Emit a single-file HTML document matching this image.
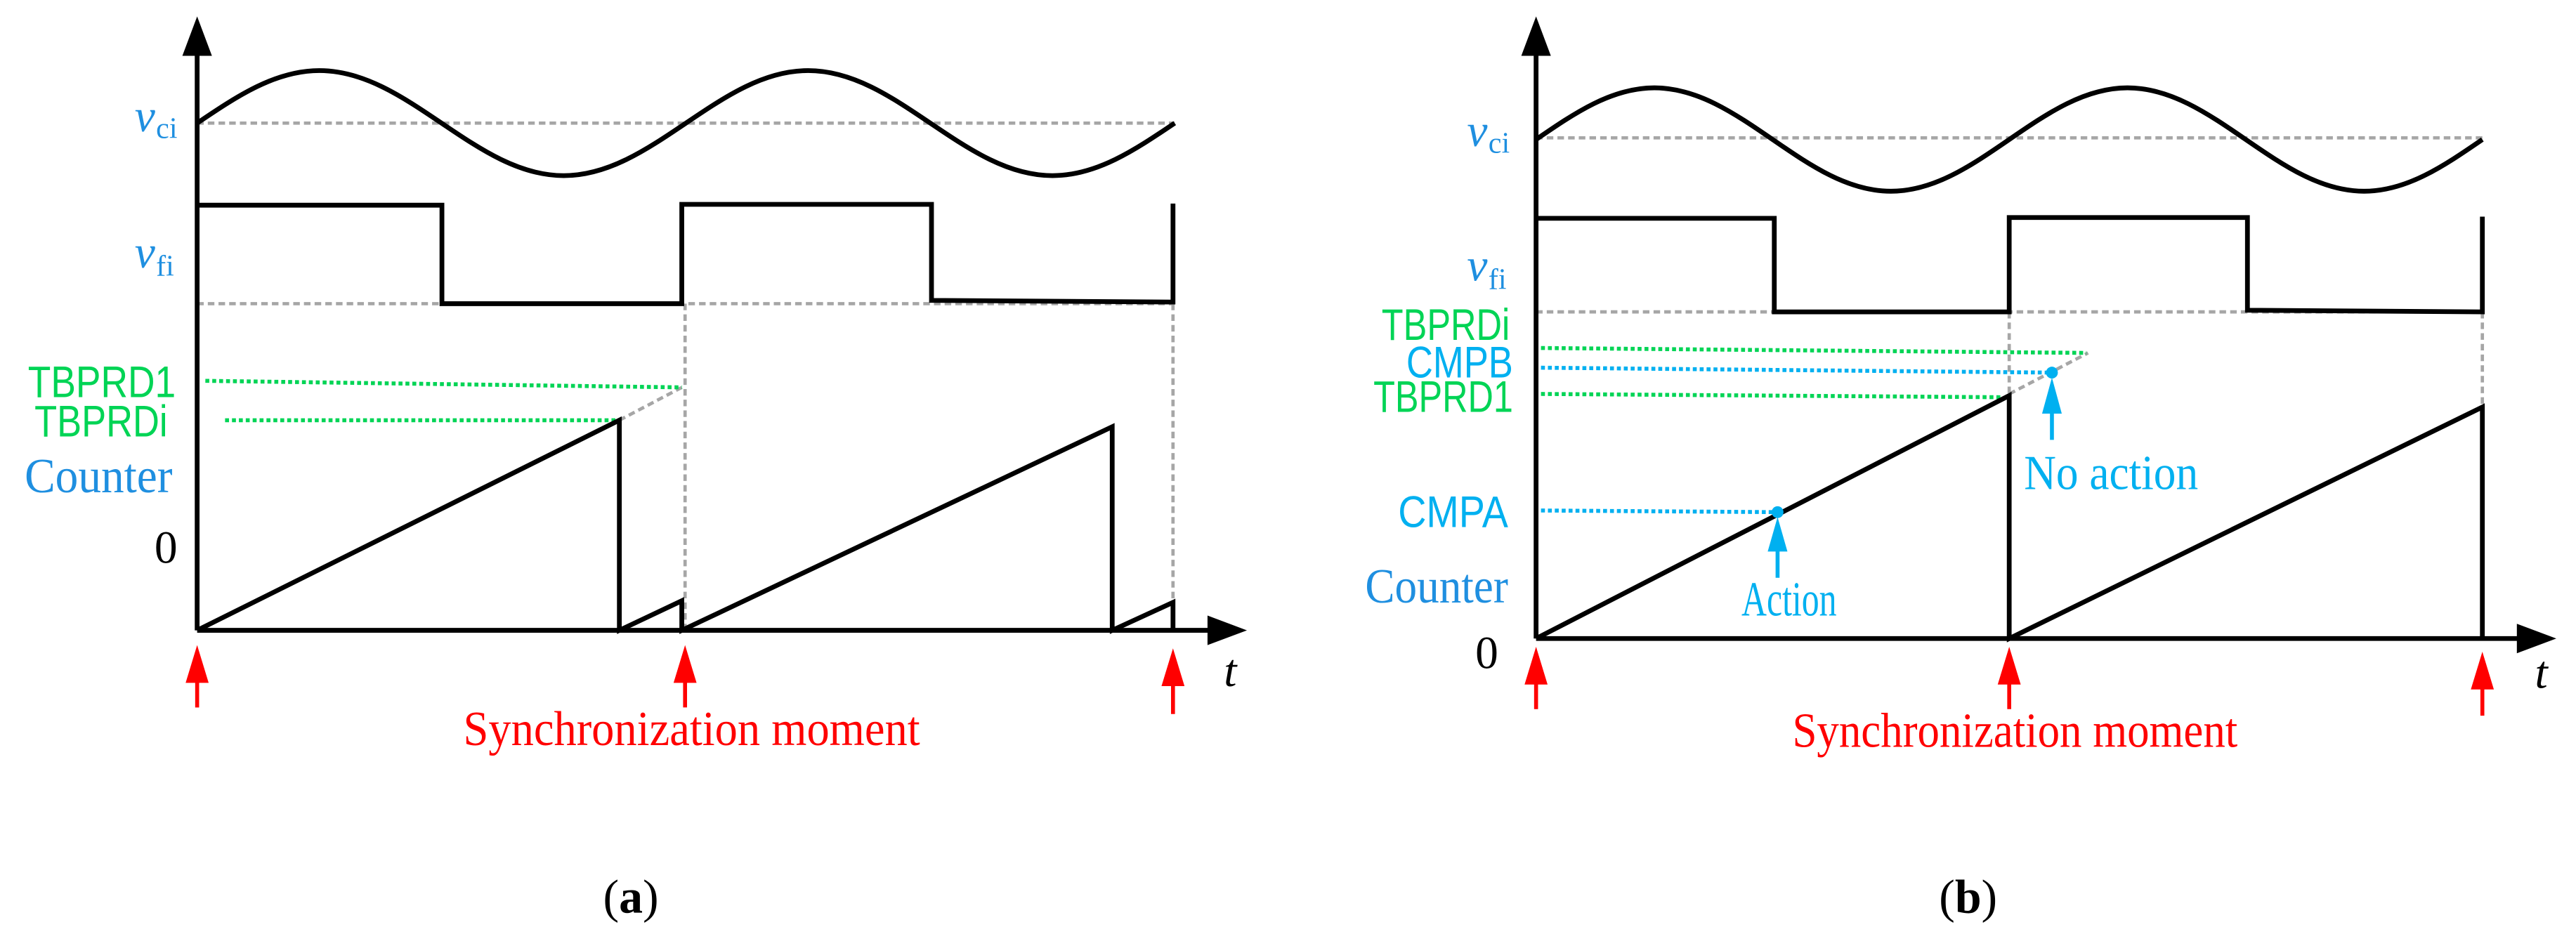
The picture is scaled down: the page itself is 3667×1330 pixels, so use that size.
<!DOCTYPE html>
<html><head><meta charset="utf-8"><style>
html,body{margin:0;padding:0;background:#fff;}
svg{display:block;}
.k{stroke:#000;stroke-width:2.9;fill:none;stroke-linejoin:miter;}
.g{stroke:#a6a6a6;stroke-width:2;fill:none;stroke-dasharray:4 2.5;}
.gr{stroke:#00d455;stroke-width:2.4;fill:none;stroke-dasharray:2.4 1.8;}
.bl{stroke:#00b0f0;stroke-width:2.4;fill:none;stroke-dasharray:2.4 1.8;}
.sans{font-family:"Liberation Sans",sans-serif;}
.serif{font-family:"Liberation Serif",serif;}
</style></head><body>
<svg width="3667" height="1330" viewBox="0 0 1568 569" preserveAspectRatio="none" xmlns="http://www.w3.org/2000/svg">
<!-- ========== Panel (a) ========== -->
<line class="g" x1="120" y1="75" x2="715" y2="75"/>
<line class="g" x1="120" y1="185" x2="714" y2="185"/>
<line class="g" x1="417" y1="185" x2="417" y2="384"/>
<line class="g" x1="714" y1="185" x2="714" y2="384"/>
<line class="g" x1="377" y1="256" x2="415" y2="236"/>
<line class="gr" x1="125" y1="232" x2="415" y2="236"/>
<line class="gr" x1="137" y1="256" x2="377" y2="256"/>
<path class="k" d="M120 75 C144.24 58.62 167.46 43 194.38 43 S244.52 58.62 268.76 75 S316.22 107 343.14 107 S393.28 91.38 417.52 75 S464.98 43 491.9 43 S542.04 58.62 566.28 75 S613.74 107 640.66 107 S690.8 91.38 715.04 75"/>
<path class="k" d="M120 125 L269 125 L269 185 L415 185 L415 124.5 L567 124.5 L567 183 L714 184 L714 124"/>
<path class="k" d="M120 384 L377 256 L377 384 L415 366 L415 384 L677 260 L677 384 L714 367 L714 384"/>
<line class="k" x1="120" y1="384" x2="120" y2="30"/>
<polygon points="120,10 111,34 129,34" fill="#000"/>
<line class="k" x1="120" y1="384" x2="740" y2="384"/>
<polygon points="759,384 735,375 735,393" fill="#000"/>
<g fill="#ff0000" stroke="#ff0000">
<polygon points="120,393 113,416 127,416" stroke="none"/><line x1="120" y1="414" x2="120" y2="431" stroke-width="2.4"/>
<polygon points="417,393 410,416 424,416" stroke="none"/><line x1="417" y1="414" x2="417" y2="431" stroke-width="2.4"/>
<polygon points="714,395 707,418 721,418" stroke="none"/><line x1="714" y1="416" x2="714" y2="435" stroke-width="2.4"/>
</g>
<text class="serif" x="82" y="80" font-size="28" fill="#1f8fe0" font-style="italic">v</text><text class="serif" x="95" y="84" font-size="18" fill="#1f8fe0">ci</text>
<text class="serif" x="82" y="163" font-size="28" fill="#1f8fe0" font-style="italic">v</text><text class="serif" x="95" y="168" font-size="18" fill="#1f8fe0">fi</text>
<text class="sans" x="17" y="242" font-size="27" fill="#00d455" textLength="90" lengthAdjust="spacingAndGlyphs">TBPRD1</text>
<text class="sans" x="21" y="266" font-size="27" fill="#00d455" textLength="81" lengthAdjust="spacingAndGlyphs">TBPRDi</text>
<text class="serif" x="15" y="300" font-size="30" fill="#1f8fe0" textLength="90" lengthAdjust="spacingAndGlyphs">Counter</text>
<text class="serif" x="94" y="343" font-size="28" fill="#000">0</text>
<text class="serif" x="745" y="418" font-size="28" fill="#000" font-style="italic">t</text>
<text class="serif" x="282" y="454" font-size="30" fill="#ff0000" textLength="278" lengthAdjust="spacingAndGlyphs">Synchronization moment</text>
<text class="serif" x="384" y="556" font-size="29" fill="#000" text-anchor="middle">(<tspan font-weight="bold">a</tspan>)</text>

<!-- ========== Panel (b) ========== -->
<line class="g" x1="935" y1="84" x2="1511" y2="84"/>
<line class="g" x1="935" y1="190" x2="1511" y2="190"/>
<line class="g" x1="1223" y1="190" x2="1223" y2="241"/>
<line class="g" x1="1511" y1="190" x2="1511" y2="248"/>
<line class="g" x1="1223" y1="240" x2="1271" y2="215"/>
<line class="gr" x1="938" y1="212" x2="1270" y2="215"/>
<line class="bl" x1="938" y1="224" x2="1249" y2="227"/>
<line class="gr" x1="938" y1="240" x2="1218" y2="242"/>
<line class="bl" x1="938" y1="311" x2="1082" y2="312"/>
<path class="k" d="M935 85 C958.47 68.87 980.94 53.5 1007 53.5 S1055.53 68.87 1079 85 S1124.94 116.5 1151 116.5 S1199.53 101.13 1223 85 S1268.94 53.5 1295 53.5 S1343.53 68.87 1367 85 S1412.94 116.5 1439 116.5 S1487.53 101.13 1511 85"/>
<path class="k" d="M935 133 L1080 133 L1080 190 L1223 190 L1223 132.5 L1368 132.5 L1368 189 L1511 190 L1511 132"/>
<path class="k" d="M935 389 L1223 241 L1223 389 L1511 248 L1511 389"/>
<line class="k" x1="935" y1="389" x2="935" y2="30"/>
<polygon points="935,10 926,34 944,34" fill="#000"/>
<line class="k" x1="935" y1="389" x2="1536" y2="389"/>
<polygon points="1556,389 1532,380 1532,398" fill="#000"/>
<g fill="#00b0f0" stroke="#00b0f0">
<circle cx="1082" cy="312" r="3.6" stroke="none"/>
<polygon points="1082,315 1076,336 1088,336" stroke="none"/><line x1="1082" y1="333" x2="1082" y2="352" stroke-width="2.4"/>
<circle cx="1249" cy="227" r="3.6" stroke="none"/>
<polygon points="1249,230 1243,252 1255,252" stroke="none"/><line x1="1249" y1="249" x2="1249" y2="268" stroke-width="2.4"/>
</g>
<g fill="#ff0000" stroke="#ff0000">
<polygon points="935,394 928,417 942,417" stroke="none"/><line x1="935" y1="415" x2="935" y2="432" stroke-width="2.4"/>
<polygon points="1223,394 1216,417 1230,417" stroke="none"/><line x1="1223" y1="415" x2="1223" y2="432" stroke-width="2.4"/>
<polygon points="1511,397 1504,420 1518,420" stroke="none"/><line x1="1511" y1="418" x2="1511" y2="436" stroke-width="2.4"/>
</g>
<text class="serif" x="893" y="89" font-size="28" fill="#1f8fe0" font-style="italic">v</text><text class="serif" x="906" y="93" font-size="18" fill="#1f8fe0">ci</text>
<text class="serif" x="893" y="171" font-size="28" fill="#1f8fe0" font-style="italic">v</text><text class="serif" x="906" y="176" font-size="18" fill="#1f8fe0">fi</text>
<text class="sans" x="841" y="207" font-size="27" fill="#00d455" textLength="78" lengthAdjust="spacingAndGlyphs">TBPRDi</text>
<text class="sans" x="856" y="230" font-size="27" fill="#00b0f0" textLength="65" lengthAdjust="spacingAndGlyphs">CMPB</text>
<text class="sans" x="836" y="251" font-size="27" fill="#00d455" textLength="85" lengthAdjust="spacingAndGlyphs">TBPRD1</text>
<text class="sans" x="851" y="321" font-size="27" fill="#00b0f0" textLength="67" lengthAdjust="spacingAndGlyphs">CMPA</text>
<text class="serif" x="831" y="367" font-size="30" fill="#1f8fe0" textLength="87" lengthAdjust="spacingAndGlyphs">Counter</text>
<text class="serif" x="898" y="407" font-size="28" fill="#000">0</text>
<text class="serif" x="1060" y="375" font-size="30" fill="#00b0f0" textLength="58" lengthAdjust="spacingAndGlyphs">Action</text>
<text class="serif" x="1232" y="298" font-size="30" fill="#00b0f0" textLength="106" lengthAdjust="spacingAndGlyphs">No action</text>
<text class="serif" x="1543" y="419" font-size="28" fill="#000" font-style="italic">t</text>
<text class="serif" x="1091" y="455" font-size="30" fill="#ff0000" textLength="271" lengthAdjust="spacingAndGlyphs">Synchronization moment</text>
<text class="serif" x="1198" y="556" font-size="29" fill="#000" text-anchor="middle">(<tspan font-weight="bold">b</tspan>)</text>
</svg>
</body></html>
